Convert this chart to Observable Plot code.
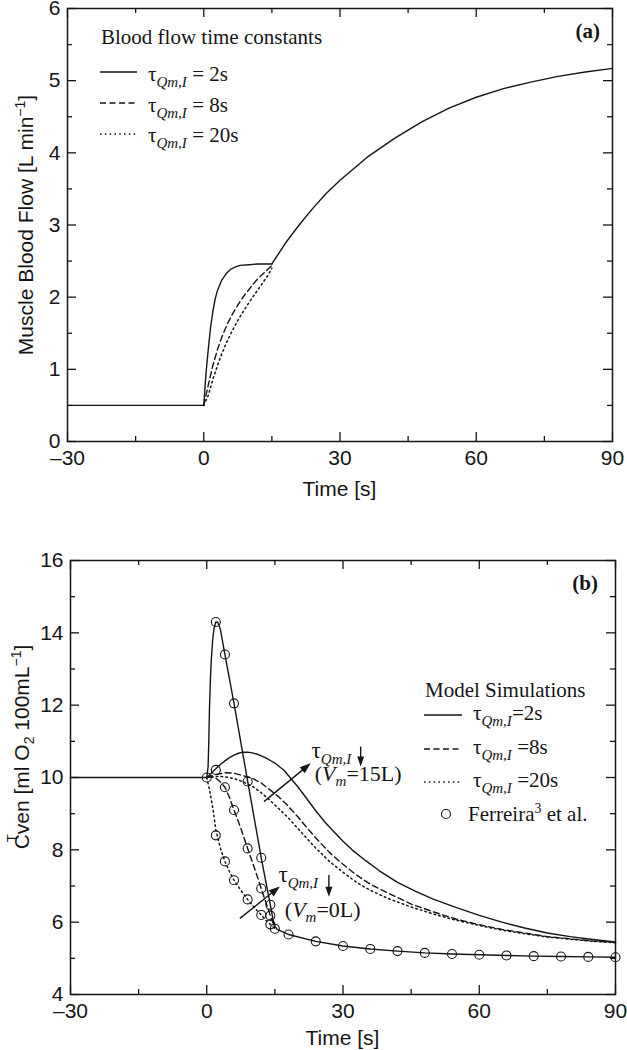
<!DOCTYPE html>
<html><head><meta charset="utf-8">
<script src="https://cdn.jsdelivr.net/npm/d3@7"></script>
<script src="https://cdn.jsdelivr.net/npm/@observablehq/plot@0.6"></script>
<style>
html,body{margin:0;padding:0;background:#fff;}
body{width:627px;height:1050px;position:relative;overflow:hidden;}
#a,#b{position:absolute;left:0;}
#a{top:0;} #b{top:500px;}
svg{overflow:visible;}
</style></head><body>
<div id="a"></div><div id="b"></div>
<script>
const SANS = "'Liberation Sans', Arial, Helvetica, sans-serif";
const SERIF = "'Liberation Serif', 'Times New Roman', serif";
const INK = "#151515";

// ---- axes ----
const timeMajor = [-30, 0, 30, 60, 90];
const timeMinor = [-15, 15, 45, 75];
const flowMajor = [0, 1, 2, 3, 4, 5, 6];
const flowMinor = [0.5, 1.5, 2.5, 3.5, 4.5, 5.5];
const venMajor = [4, 6, 8, 10, 12, 14, 16];
const venMinor = [5, 7, 9, 11, 13, 15];

// ---- panel (a): muscle blood flow ----
const flowBaseTime = [-30, 0];
const flowBaseValue = [0.5, 0.5];
const flowTau2Time = [0, 0.5, 1, 1.5, 2, 2.5, 3, 4, 5, 6, 7, 8, 10, 12, 15];
const flowTau2Value = [0.5, 0.95, 1.28, 1.58, 1.8, 1.97, 2.09, 2.24, 2.33, 2.39, 2.42, 2.44, 2.45, 2.46, 2.46];
const flowTailTime = [15, 18, 21, 24, 27, 30, 36, 42, 48, 54, 60, 66, 72, 78, 84, 90];
const flowTailValue = [2.46, 2.75, 3.0, 3.23, 3.44, 3.62, 3.94, 4.2, 4.43, 4.62, 4.77, 4.89, 4.98, 5.06, 5.12, 5.17];
const flowTau8Time = [0, 1, 2, 3, 4, 5, 6, 7, 8, 9, 10, 11, 12, 13, 14, 15];
const flowTau8Value = [0.5, 0.78, 1.05, 1.27, 1.45, 1.6, 1.73, 1.84, 1.94, 2.03, 2.11, 2.19, 2.26, 2.32, 2.38, 2.44];
const flowTau20Time = [0, 1, 2, 3, 4, 5, 6, 7, 8, 9, 10, 11, 12, 13, 14, 15];
const flowTau20Value = [0.5, 0.64, 0.86, 1.05, 1.22, 1.37, 1.5, 1.62, 1.73, 1.83, 1.93, 2.02, 2.11, 2.2, 2.29, 2.4];

// ---- panel (b): venous O2 content ----
const venBaseTime = [-30, 0];
const venBaseValue = [10, 10];
// Vm = 0 L
const ven0Tau2Time = [0, 0.3, 0.45, 0.6, 0.8, 1.0, 1.3, 1.6, 2.0, 2.4, 3.0, 4.0, 6.0, 9.0, 12.0, 14.0, 14.8, 15.5, 18, 24, 30, 36, 42, 48, 54, 60, 66, 72, 78, 84, 90];
const ven0Tau2Value = [10, 10.3, 11.0, 11.9, 12.7, 13.25, 13.8, 14.12, 14.3, 14.3, 14.1, 13.4, 12.05, 9.9, 7.78, 6.48, 5.93, 5.8, 5.66, 5.47, 5.34, 5.26, 5.2, 5.15, 5.12, 5.1, 5.08, 5.06, 5.05, 5.04, 5.03];
const ven0Tau8Time = [0, 1, 2, 3, 4, 5, 6, 7.5, 9, 10.5, 12, 13, 14, 15];
const ven0Tau8Value = [10, 10.02, 9.98, 9.88, 9.73, 9.45, 9.1, 8.6, 8.04, 7.5, 6.93, 6.55, 6.18, 5.84];
const ven0Tau20Time = [0, 0.5, 1, 1.5, 2, 3, 4, 5, 6, 7.5, 9, 10.5, 12, 13, 14, 15];
const ven0Tau20Value = [10, 9.72, 9.4, 9.02, 8.55, 8.05, 7.68, 7.4, 7.16, 6.88, 6.63, 6.4, 6.2, 6.05, 5.94, 5.82];
// Vm = 15 L
const ven15Tau2Time = [0, 1, 2, 3, 4, 5, 6, 7, 8, 9, 10, 11, 12, 13, 14, 15, 17, 20, 22, 24, 26, 28, 30, 32, 35, 38, 42, 46, 50, 55, 60, 65, 70, 75, 80, 85, 90];
const ven15Tau2Value = [10, 10.12, 10.24, 10.36, 10.46, 10.55, 10.62, 10.67, 10.7, 10.7, 10.68, 10.65, 10.6, 10.54, 10.47, 10.4, 10.2, 9.75, 9.42, 9.08, 8.77, 8.5, 8.24, 8.0, 7.7, 7.42, 7.1, 6.85, 6.63, 6.4, 6.19, 6.0, 5.84, 5.7, 5.6, 5.52, 5.45];
const ven15Tau8Time = [0, 2, 4, 6, 8, 10, 12, 14, 16, 18, 20, 22, 24, 27, 30, 33, 36, 40, 45, 50, 55, 60, 65, 70, 75, 80, 85, 90];
const ven15Tau8Value = [10, 10.08, 10.13, 10.12, 10.05, 9.98, 9.85, 9.65, 9.45, 9.2, 8.92, 8.62, 8.33, 7.93, 7.6, 7.3, 7.05, 6.8, 6.5, 6.28, 6.08, 5.93, 5.8, 5.7, 5.6, 5.54, 5.48, 5.44];
const ven15Tau20Time = [0, 2, 4, 6, 8, 10, 12, 14, 16, 18, 20, 22, 24, 27, 30, 33, 36, 40, 45, 50, 55, 60, 65, 70, 75, 80, 85, 90];
const ven15Tau20Value = [10, 10.03, 10.02, 9.97, 9.88, 9.76, 9.58, 9.36, 9.12, 8.88, 8.6, 8.32, 8.05, 7.68, 7.38, 7.1, 6.88, 6.65, 6.42, 6.22, 6.05, 5.91, 5.78, 5.68, 5.59, 5.53, 5.47, 5.43];
// Ferreira et al. data
const ferreiraTime = [0, 2, 4, 6, 9, 12, 14, 2, 4, 6, 9, 12, 14, 2, 4, 6, 9, 12, 14, 15, 18, 24, 30, 36, 42, 48, 54, 60, 66, 72, 78, 84, 90];
const ferreiraValue = [10, 14.3, 13.4, 12.05, 9.89, 7.78, 6.48, 10.21, 9.73, 9.1, 8.04, 6.93, 6.18, 8.4, 7.68, 7.16, 6.63, 6.2, 5.94, 5.82, 5.66, 5.47, 5.34, 5.26, 5.2, 5.15, 5.12, 5.1, 5.08, 5.06, 5.05, 5.04, 5.03];

// ---- annotations (data units) ----
const arrow15 = [12.7, 9.32, 23.0, 10.38];
const arrow0 = [7.4, 6.09, 16.2, 6.97];
const tau15Pos = [23.2, 10.53];
const down15 = [34.0, 10.84, 10.29];
const vm15Pos = [23.9, 9.89];
const tau0Pos = [15.9, 7.11];
const down0 = [27.0, 7.29, 6.69];
const vm0Pos = [17.3, 6.14];

function rows(ts, vs) { return ts.map((t, i) => ({t, v: vs[i]})); }
const fmtTime = d => d < 0 ? "\u2013" + (-d) : String(d);
const SOLID = {stroke: INK, strokeWidth: 1.4};
const DASH = {stroke: INK, strokeWidth: 1.4, strokeDasharray: "6,3.5"};
const DOT = {stroke: INK, strokeWidth: 1.5, strokeDasharray: "1.6,3.2"};

function frameMarks(yMaj, yMin, ph, pw) {
  const s = {stroke: INK, strokeWidth: 1.3};
  return [
    Plot.tickX(timeMajor, {x: d => d, insetTop: ph - 9, ...s}),
    Plot.tickX(timeMajor, {x: d => d, insetBottom: ph - 9, ...s}),
    Plot.tickX(timeMinor, {x: d => d, insetTop: ph - 5, ...s}),
    Plot.tickX(timeMinor, {x: d => d, insetBottom: ph - 5, ...s}),
    Plot.tickY(yMaj, {y: d => d, insetRight: pw - 9, ...s}),
    Plot.tickY(yMaj, {y: d => d, insetLeft: pw - 9, ...s}),
    Plot.tickY(yMin, {y: d => d, insetRight: pw - 5, ...s}),
    Plot.tickY(yMin, {y: d => d, insetLeft: pw - 5, ...s}),
    Plot.axisX(timeMajor, {anchor: "bottom", tickSize: 0, tickPadding: 9, tickFormat: fmtTime, fontSize: 21, label: null}),
    Plot.axisY(yMaj, {anchor: "left", tickSize: 0, tickPadding: 7, tickFormat: d => String(d), fontSize: 21, label: null}),
    Plot.frame({stroke: INK, strokeWidth: 1.5})
  ];
}

function rich(g, x, y, parts, {size = 21, family = SERIF, anchor = "start", transform = null, weight = null} = {}) {
  const t = g.append("text").attr("x", x).attr("y", y)
    .attr("font-family", family).attr("font-size", size).attr("fill", INK)
    .attr("text-anchor", anchor);
  if (transform) t.attr("transform", transform);
  if (weight) t.attr("font-weight", weight);
  let cur = 0;
  for (const p of parts) {
    const s = t.append("tspan").text(p.text);
    const shift = p.shift || 0;
    const dy = shift - cur; cur = shift;
    if (dy) s.attr("dy", dy);
    if (p.dx) s.attr("dx", p.dx);
    if (p.size) s.attr("font-size", p.size);
    if (p.italic) s.attr("font-style", "italic");
  }
  return t;
}
const tauParts = (rest) => [{text: "\u03c4"}, {text: "Qm,I", italic: true, size: 15, shift: 6}, {text: rest, shift: 0}];

function drawArrow(g, x1, y1, x2, y2, head = 11, half = 4) {
  const ang = Math.atan2(y2 - y1, x2 - x1);
  const bx = x2 - head * Math.cos(ang), by = y2 - head * Math.sin(ang);
  const px = -Math.sin(ang) * half, py = Math.cos(ang) * half;
  g.append("line").attr("x1", x1).attr("y1", y1).attr("x2", bx + 1 * Math.cos(ang)).attr("y2", by + 1 * Math.sin(ang))
    .attr("stroke", INK).attr("stroke-width", 1.4);
  g.append("path").attr("d", `M${x2},${y2}L${bx + px},${by + py}L${bx - px},${by - py}Z`).attr("fill", INK);
}

const baseStyle = {fontFamily: SANS, fontSize: "21px", color: INK, background: "transparent", overflow: "visible"};

// ================= Panel (a) =================
const A = {w: 627, h: 500, mt: 8, mb: 59, ml: 67, mr: 15};
const chartA = Plot.plot({
  width: A.w, height: A.h, marginTop: A.mt, marginBottom: A.mb, marginLeft: A.ml, marginRight: A.mr,
  x: {domain: [-30, 90]}, y: {domain: [0, 6]},
  style: baseStyle,
  marks: [
    ...frameMarks(flowMajor, flowMinor, A.h - A.mt - A.mb, A.w - A.ml - A.mr),
    Plot.line(rows(flowTau20Time, flowTau20Value), {x: "t", y: "v", ...DOT}),
    Plot.line(rows(flowTau8Time, flowTau8Value), {x: "t", y: "v", ...DASH}),
    Plot.line(rows(flowBaseTime, flowBaseValue), {x: "t", y: "v", ...SOLID}),
    Plot.line(rows(flowTau2Time, flowTau2Value), {x: "t", y: "v", ...SOLID}),
    Plot.line(rows(flowTailTime, flowTailValue), {x: "t", y: "v", ...SOLID})
  ]
});
document.getElementById("a").appendChild(chartA);
{
  const g = d3.select(chartA).append("g");
  rich(g, 0, 0, [{text: "Muscle Blood Flow [L min"}, {text: "\u22121", size: 14, shift: -8}, {text: "]", shift: 0}],
    {family: SANS, size: 21, anchor: "middle", transform: "translate(33,225) rotate(-90)"});
  rich(g, 339.5, 496, [{text: "Time [s]"}], {family: SANS, size: 21, anchor: "middle"});
  rich(g, 600, 38, [{text: "(a)"}], {anchor: "end", weight: "bold"});
  rich(g, 101, 44, [{text: "Blood flow time constants"}]);
  const legA = [[72, 81, "2s", ""], [103, 111.5, "8s", "6,3.5"], [134, 142, "20s", "1.6,3.2"]];
  for (const [ly, by, lab, dash] of legA) {
    g.append("line").attr("x1", 100).attr("x2", 137).attr("y1", ly).attr("y2", ly)
      .attr("stroke", INK).attr("stroke-width", 1.4).attr("stroke-dasharray", dash || null);
    rich(g, 148, by, tauParts(" = " + lab));
  }
}

// ================= Panel (b) =================
const B = {w: 627, h: 550, mt: 60, mb: 56, ml: 70, mr: 12};
const chartB = Plot.plot({
  width: B.w, height: B.h, marginTop: B.mt, marginBottom: B.mb, marginLeft: B.ml, marginRight: B.mr,
  x: {domain: [-30, 90]}, y: {domain: [4, 16]},
  style: baseStyle,
  marks: [
    ...frameMarks(venMajor, venMinor, B.h - B.mt - B.mb, B.w - B.ml - B.mr),
    Plot.line(rows(venBaseTime, venBaseValue), {x: "t", y: "v", ...SOLID}),
    Plot.line(rows(ven15Tau20Time, ven15Tau20Value), {x: "t", y: "v", ...DOT}),
    Plot.line(rows(ven15Tau8Time, ven15Tau8Value), {x: "t", y: "v", ...DASH}),
    Plot.line(rows(ven15Tau2Time, ven15Tau2Value), {x: "t", y: "v", ...SOLID}),
    Plot.line(rows(ven0Tau20Time, ven0Tau20Value), {x: "t", y: "v", ...DOT}),
    Plot.line(rows(ven0Tau8Time, ven0Tau8Value), {x: "t", y: "v", ...DASH}),
    Plot.line(rows(ven0Tau2Time, ven0Tau2Value), {x: "t", y: "v", ...SOLID}),
    Plot.dot(rows(ferreiraTime, ferreiraValue), {x: "t", y: "v", r: 4.5, stroke: INK, strokeWidth: 1.1, fill: "none"})
  ]
});
document.getElementById("b").appendChild(chartB);
{
  const g = d3.select(chartB).append("g");
  const sx = chartB.scale("x"), sy = chartB.scale("y");
  const X = v => sx.apply(v), Y = v => sy.apply(v);
  rich(g, 0, 0, [
      {text: "C"}, {text: "T", size: 13, shift: -13, dx: -8}, {text: "ven", shift: 0},
      {text: " [ml O"}, {text: "2", size: 14, shift: 5}, {text: " 100mL", shift: 0},
      {text: "\u22121", size: 14, shift: -8}, {text: "]", shift: 0}],
    {family: SANS, size: 21, anchor: "middle", transform: "translate(29,247) rotate(-90)"});
  rich(g, 342.5, 545, [{text: "Time [s]"}], {family: SANS, size: 21, anchor: "middle"});
  rich(g, 598, 90, [{text: "(b)"}], {anchor: "end", weight: "bold"});
  // legend
  rich(g, 425, 197, [{text: "Model Simulations"}]);
  const legB = [[215, 220, "=2s", ""], [249, 254, " =8s", "6,3.5"], [282, 287, " =20s", "1.6,3.2"]];
  for (const [ly, by, lab, dash] of legB) {
    g.append("line").attr("x1", 424).attr("x2", 462).attr("y1", ly).attr("y2", ly)
      .attr("stroke", INK).attr("stroke-width", 1.4).attr("stroke-dasharray", dash || null);
    rich(g, 473, by, tauParts(lab));
  }
  g.append("circle").attr("cx", 446).attr("cy", 314).attr("r", 4.5).attr("fill", "none").attr("stroke", INK).attr("stroke-width", 1.1);
  rich(g, 468, 321, [{text: "Ferreira"}, {text: "3", size: 14, shift: -8}, {text: " et al.", shift: 0}]);
  // annotations
  drawArrow(g, X(arrow15[0]), Y(arrow15[1]), X(arrow15[2]), Y(arrow15[3]));
  drawArrow(g, X(arrow0[0]), Y(arrow0[1]), X(arrow0[2]), Y(arrow0[3]));
  drawArrow(g, X(down15[0]), Y(down15[1]), X(down15[0]), Y(down15[2]), 10, 3.5);
  drawArrow(g, X(down0[0]), Y(down0[1]), X(down0[0]), Y(down0[2]), 10, 3.5);
  rich(g, X(tau15Pos[0]), Y(tau15Pos[1]), tauParts(""), {size: 23});
  rich(g, X(tau0Pos[0]), Y(tau0Pos[1]), tauParts(""), {size: 23});
  const vmParts = (n) => [{text: "("}, {text: "V", italic: true}, {text: "m", italic: true, size: 15, shift: 5}, {text: "=" + n + ")", shift: 0}];
  rich(g, X(vm15Pos[0]), Y(vm15Pos[1]), vmParts("15L"), {size: 22});
  rich(g, X(vm0Pos[0]), Y(vm0Pos[1]), vmParts("0L"), {size: 22});
}
</script></body></html>
